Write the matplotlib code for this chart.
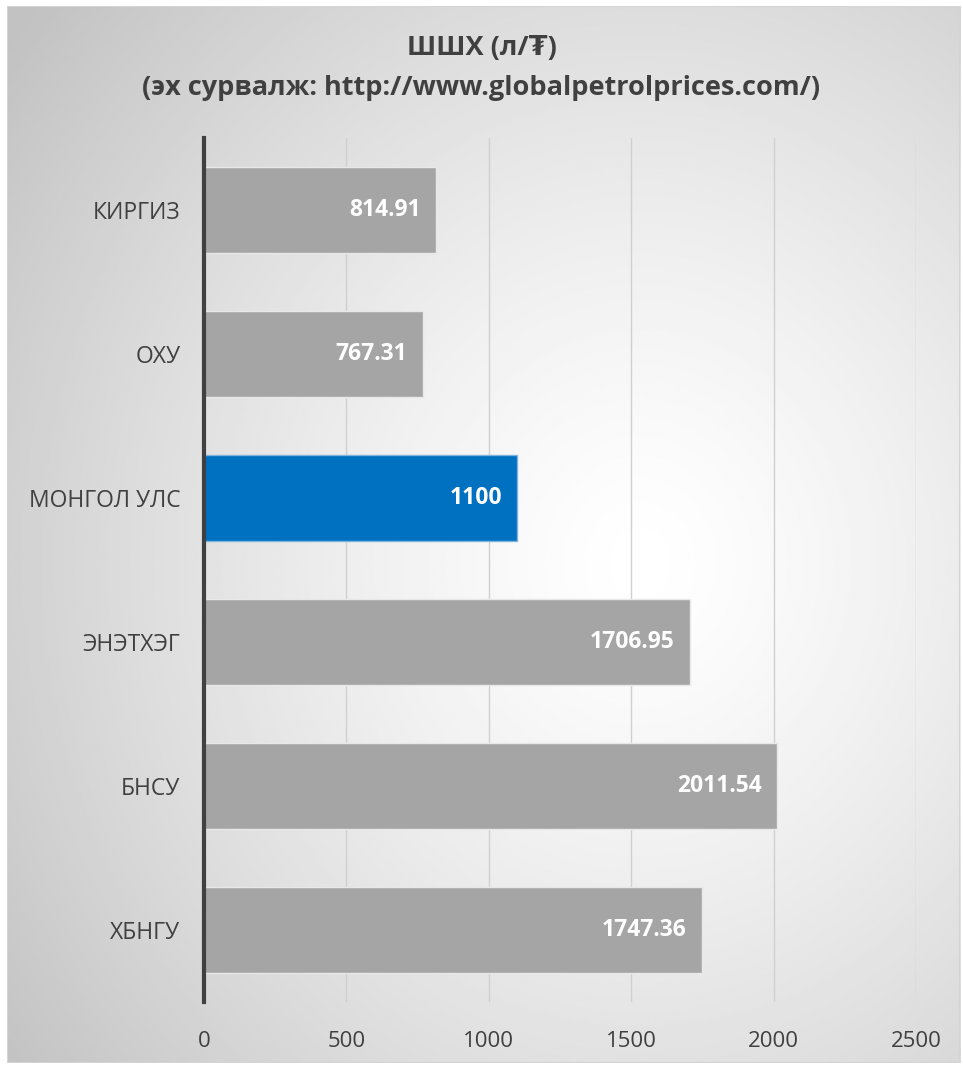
import numpy as np
import matplotlib.pyplot as plt
from matplotlib.patches import Rectangle
from matplotlib.transforms import offset_copy

# Өгөгдөл
countries = ["КИРГИЗ", "ОХУ", "МОНГОЛ УЛС", "ЭНЭТХЭГ", "БНСУ", "ХБНГУ"]
prices = [814.91, 767.31, 1100, 1706.95, 2011.54, 1747.36]
labels = ["814.91", "767.31", "1100", "1706.95", "2011.54", "1747.36"]
highlight = "МОНГОЛ УЛС"
xticks = [0, 500, 1000, 1500, 2000, 2500]

plt.rcParams['font.family'] = ['Open Sans', 'DejaVu Sans']
text_col = '#404040'

fig = plt.figure(figsize=(9.63, 10.65), dpi=100)
fig.patch.set_facecolor('white')

# Арын радиал градиент
W, H = 963, 1065
x0, y0, x1, y1 = 7, 6, 960, 1063
bg = fig.add_axes([x0 / W, 1 - y1 / H, (x1 - x0) / W, (y1 - y0) / H])
yy, xx = np.mgrid[0:400, 0:400]
cx, cy = 265, 210
r = np.sqrt((xx - cx) ** 2 + (yy - cy) ** 2) / 330.0
shade = 1.0 - 0.24 * np.clip(r, 0, 1) ** 1.3
bg.imshow(shade, cmap='gray', vmin=0, vmax=1, aspect='auto',
          extent=[0, 1, 1, 0], interpolation='bilinear')
bg.set_axis_off()
bg.add_patch(Rectangle((0, 0), 1, 1, transform=bg.transAxes, fill=False,
                       edgecolor='#d4d4d4', linewidth=1.5))

ax = fig.add_axes([204 / W, 1 - 1002 / H, (916 - 204) / W, (1002 - 138) / H])
ax.patch.set_alpha(0)

y = np.arange(len(countries))
colors = ['#0070C0' if c == highlight else '#A5A5A5' for c in countries]
edges = ['#7fb3e0' if c == highlight else '#e8e8e8' for c in countries]
bars = ax.barh(y, prices, height=0.6, color=colors, edgecolor=edges,
               linewidth=1, zorder=3)

lab_tr = offset_copy(ax.transData, fig=fig, x=-11, y=0, units='points')
for b, lab in zip(bars, labels):
    ax.text(b.get_width(), b.get_y() + b.get_height() / 2, lab,
            ha='right', va='center', color='white', fontsize=16.5,
            fontweight='bold', zorder=4, transform=lab_tr)

ax.set_ylim(5.5, -0.5)
ax.set_xlim(0, 2500)
ax.set_yticks(y)
ax.set_yticklabels(countries)
ax.set_xticks(xticks)
ax.tick_params(axis='y', length=0, pad=17, labelsize=16.5, labelcolor=text_col)
ax.tick_params(axis='x', length=0, pad=21, labelsize=16, labelcolor=text_col)

ax.grid(axis='x', color='#d0d0d0', linewidth=1, zorder=0)
for s in ['top', 'right', 'bottom']:
    ax.spines[s].set_visible(False)
ax.spines['left'].set_color('#404040')
ax.spines['left'].set_linewidth(3)
ax.spines['left'].set_zorder(5)

fig.text(0.5, 1 - 48 / H, "ШШХ (л/₮)", ha='center', va='center',
         fontsize=19.5, fontweight='bold', color=text_col)
fig.text(0.5, 1 - 88 / H, "(эх сурвалж: http://www.globalpetrolprices.com/)",
         ha='center', va='center', fontsize=19.5, fontweight='bold',
         color=text_col)

fig.savefig('out.png', dpi=100)
